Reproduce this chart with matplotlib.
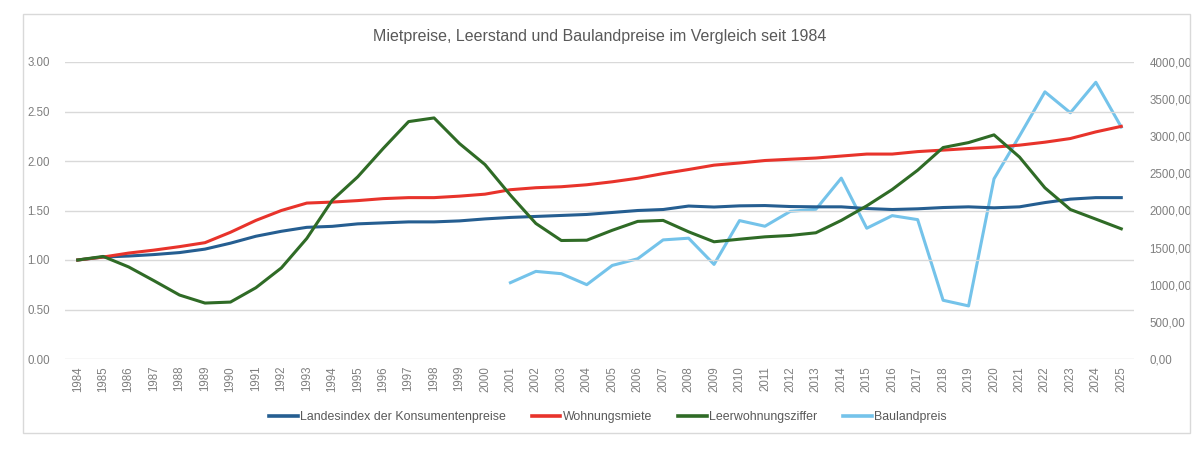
import numpy as np
import matplotlib
matplotlib.use('Agg')
import matplotlib.pyplot as plt
from matplotlib.patches import Rectangle

years = list(range(1984, 2026))

landesindex = [1.00, 1.03, 1.04, 1.055, 1.075, 1.11, 1.17, 1.24, 1.29, 1.33,
               1.34, 1.365, 1.375, 1.385, 1.385, 1.395, 1.415, 1.43, 1.44, 1.45,
               1.46, 1.48, 1.50, 1.51, 1.545, 1.535, 1.547, 1.55, 1.54, 1.537,
               1.537, 1.52, 1.51, 1.517, 1.53, 1.537, 1.527, 1.537, 1.58, 1.615,
               1.63, 1.63]

wohnungsmiete = [1.00, 1.03, 1.07, 1.10, 1.135, 1.175, 1.28, 1.40, 1.50, 1.575,
                 1.585, 1.60, 1.62, 1.63, 1.63, 1.645, 1.665, 1.71, 1.73, 1.74,
                 1.76, 1.79, 1.826, 1.873, 1.914, 1.958, 1.98, 2.005, 2.018, 2.03,
                 2.05, 2.07, 2.07, 2.095, 2.11, 2.126, 2.14, 2.16, 2.19, 2.227,
                 2.294, 2.35]

leerwohnungsziffer = [1.00, 1.036, 0.93, 0.79, 0.646, 0.565, 0.575, 0.72, 0.92, 1.218,
                      1.604, 1.84, 2.126, 2.398, 2.435, 2.176, 1.964, 1.655, 1.369, 1.197,
                      1.20, 1.30, 1.39, 1.40, 1.285, 1.184, 1.21, 1.234, 1.248, 1.275,
                      1.40, 1.547, 1.712, 1.907, 2.136, 2.186, 2.264, 2.04, 1.729, 1.51,
                      1.413, 1.315]

bauland_years = list(range(2001, 2026))
baulandpreis = [1028, 1180, 1149, 1001, 1260, 1350, 1604, 1627, 1274, 1864,
                1788, 1989, 2016, 2436, 1761, 1931, 1877, 791, 715, 2427,
                3003, 3598, 3316, 3727, 3124]

C_INDEX = '#255e91'
C_MIETE = '#e8332b'
C_LEER = '#2f6b26'
C_BAU = '#74c3ea'
TXT = '#7f7f7f'

plt.rcParams['font.family'] = ['Liberation Sans Narrow', 'Liberation Sans', 'DejaVu Sans']

fig = plt.figure(figsize=(12, 4.49), dpi=100)
fig.patches.append(Rectangle((22.5 / 1200, 1 - 433 / 449), (1190 - 22.5) / 1200, (433 - 14) / 449,
                             transform=fig.transFigure, fill=False, ec='#d9d9d9', lw=1))

ax = fig.add_axes([65 / 1200, 1 - 359 / 449, (1134 - 65) / 1200, (359 - 62) / 449])
ax2 = ax.twinx()

ax.plot(years, landesindex, color=C_INDEX, lw=2.2, label='Landesindex der Konsumentenpreise', zorder=3)
ax.plot(years, wohnungsmiete, color=C_MIETE, lw=2.2, label='Wohnungsmiete', zorder=3)
ax.plot(years, leerwohnungsziffer, color=C_LEER, lw=2.2, label='Leerwohnungsziffer', zorder=3)
ax2.plot(bauland_years, baulandpreis, color=C_BAU, lw=2.2, label='Baulandpreis')

ax.set_xlim(1983.5, 2025.5)
ax.set_ylim(0, 3)
ax2.set_ylim(0, 4000)
ax.set_yticks(np.arange(0, 3.01, 0.5))
ax.set_yticklabels([f'{v:.2f}' for v in np.arange(0, 3.01, 0.5)])
ax2.set_yticks(np.arange(0, 4001, 500))
ax2.set_yticklabels([f'{v:.2f}'.replace('.', ',') for v in np.arange(0, 4001, 500)])
ax.set_xticks(years)
ax.set_xticklabels([str(y) for y in years], rotation=90)

ax.grid(axis='y', color='#d9d9d9', lw=1)
ax.set_axisbelow(True)
for a in (ax, ax2):
    for s in a.spines.values():
        s.set_visible(False)
    a.tick_params(length=0, colors=TXT, labelsize=8.3)
ax.tick_params(axis='y', pad=11)
ax2.tick_params(axis='y', pad=11)
ax.tick_params(axis='x', pad=5)
ax.set_zorder(ax2.get_zorder() + 1)
ax.patch.set_visible(False)

fig.text(0.5, 1 - 37 / 449, 'Mietpreise, Leerstand und Baulandpreise im Vergleich seit 1984',
         ha='center', va='center', fontsize=11.5, color='#595959',
         family=['Liberation Sans', 'DejaVu Sans'])

h1, l1 = ax.get_legend_handles_labels()
h2, l2 = ax2.get_legend_handles_labels()
leg = fig.legend(h1 + h2, l1 + l2, loc='center', bbox_to_anchor=(608 / 1200, 1 - 417 / 449),
                 ncol=4, frameon=False, fontsize=8.9, labelcolor='#595959',
                 handlelength=2.3, handletextpad=0.2, columnspacing=2.1)
for line in leg.get_lines():
    line.set_linewidth(2.6)

fig.savefig('out.png', dpi=100)
